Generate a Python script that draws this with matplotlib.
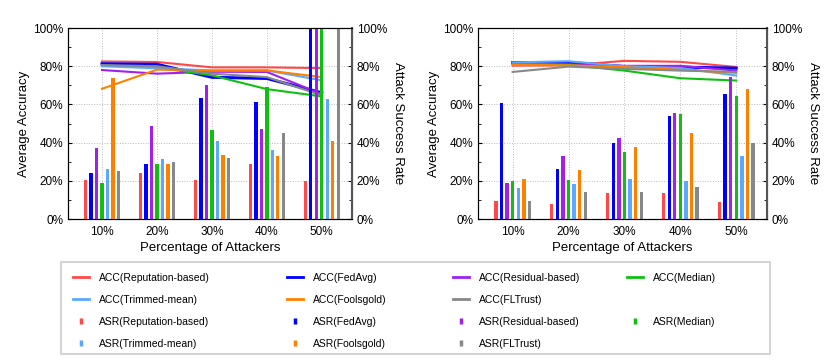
import matplotlib
matplotlib.use('Agg')
import matplotlib.pyplot as plt
from matplotlib.lines import Line2D
from matplotlib.patches import Rectangle
from matplotlib.ticker import PercentFormatter, MultipleLocator
import numpy as np

plt.rcParams['font.family'] = ['Liberation Sans', 'DejaVu Sans']

attackers = ['10%', '20%', '30%', '40%', '50%']
methods = ['Reputation-based', 'FedAvg', 'Residual-based', 'Median',
           'Trimmed-mean', 'Foolsgold', 'FLTrust']
colors = ['#ff4848', '#0000ff', '#a020f0', '#10c010', '#5aa8ff', '#ff8000', '#888888']

# left panel
acc_left = [
    [82.5, 82.2, 79.4, 79.4, 79.0],
    [81.3, 81.0, 74.2, 73.6, 66.1],
    [78.0, 76.1, 77.1, 77.0, 65.4],
    [80.4, 79.4, 75.2, 68.0, 64.2],
    [80.0, 78.9, 77.8, 77.8, 72.6],
    [68.2, 78.2, 77.7, 77.8, 74.3],
    [80.6, 80.0, 76.1, 74.3, 64.7],
]
asr_left = [
    [20.4, 24.3, 20.6, 28.8, 20.1],
    [23.9, 28.8, 63.4, 61.4, 100.0],
    [37.2, 48.5, 70.3, 46.9, 100.0],
    [19.0, 28.6, 46.8, 69.1, 100.0],
    [26.4, 31.4, 41.0, 36.3, 62.8],
    [73.6, 28.8, 33.7, 33.2, 40.7],
    [25.0, 29.7, 32.1, 45.0, 100.0],
]

# right panel
acc_right = [
    [80.3, 80.5, 82.8, 82.3, 79.6],
    [81.9, 82.0, 79.8, 79.5, 79.0],
    [81.2, 81.0, 80.2, 80.2, 77.7],
    [81.6, 80.7, 77.7, 73.7, 72.5],
    [82.0, 82.6, 80.0, 79.1, 75.1],
    [80.7, 80.5, 79.5, 78.1, 76.5],
    [77.0, 79.8, 78.6, 77.7, 77.0],
]
asr_right = [
    [9.6, 7.7, 13.4, 13.4, 8.7],
    [60.5, 26.1, 40.0, 53.9, 65.2],
    [18.8, 32.9, 42.3, 55.3, 74.4],
    [20.0, 20.2, 35.0, 54.8, 64.5],
    [16.0, 18.1, 20.7, 20.0, 33.0],
    [20.7, 25.4, 37.6, 44.9, 68.2],
    [9.6, 13.9, 13.9, 16.5, 40.0],
]

W, H = 831, 362
fig = plt.figure(figsize=(W / 100, H / 100), dpi=100)
ax_l = fig.add_axes([0.0818, 0.395, 0.3418, 0.5276])
ax_r = fig.add_axes([0.5752, 0.395, 0.3478, 0.5276])

x = np.arange(len(attackers))


def panel(ax, acc, asr):
    ax2 = ax.twinx()
    for i in range(len(methods)):
        lw = 2.2 if i == 1 else 1.5
        ax.plot(x, acc[i], color=colors[i], lw=lw, zorder=3)
        ax2.bar(x + (i - 3) * 0.1, asr[i], width=0.06, color=colors[i])
    for a in (ax, ax2):
        a.set_ylim(0, 100)
        a.yaxis.set_major_locator(MultipleLocator(20))
        a.yaxis.set_minor_locator(MultipleLocator(10))
        a.yaxis.set_major_formatter(PercentFormatter(decimals=0))
        a.tick_params(axis='both', which='both', direction='in', labelsize=8.5)
        a.tick_params(which='major', length=3)
        a.tick_params(which='minor', length=2)
    ax.set_xlim(-0.62, 4.55)
    ax.set_xticks(x)
    ax.set_xticklabels(attackers)
    ax.tick_params(axis='x', length=0, pad=5)
    ax.grid(True, linestyle=':', color='#bbbbbb', lw=0.7)
    ax.set_axisbelow(True)
    ax.set_xlabel('Percentage of Attackers', fontsize=9.5, labelpad=3)
    ax.set_ylabel('Average Accuracy', fontsize=9.5, labelpad=2)
    ax2.set_ylabel('Attack Success Rate', fontsize=9.5, rotation=-90, labelpad=12)
    ax2.spines['right'].set_color('#555555')
    ax2.spines['right'].set_linewidth(1.5)
    return ax2


panel(ax_l, acc_left, asr_left)
panel(ax_r, acc_right, asr_right)

# legend: frame plus four columns
fig.add_artist(Rectangle((61 / W, 1 - 354 / H), (770 - 61) / W, (354 - 262) / H,
                         transform=fig.transFigure, fill=False,
                         edgecolor='#cccccc', lw=1.2))

blank = Line2D([], [], linestyle='none')


def acc_handle(c):
    return Line2D([], [], color=c, lw=2)


def asr_handle(c):
    return Line2D([], [], color=c, marker='|', linestyle='none',
                  markersize=5, markeredgewidth=2.5)


columns = [[0, 4], [1, 5], [2, 6], [3, None]]
col_x = [73, 287, 453, 627]
for cols, cx in zip(columns, col_x):
    hs, ls = [], []
    for kind in ('ACC', 'ASR'):
        for i in cols:
            if i is None:
                hs.append(blank)
                ls.append(' ')
            else:
                hs.append(acc_handle(colors[i]) if kind == 'ACC' else asr_handle(colors[i]))
                ls.append('%s(%s)' % (kind, methods[i]))
    fig.legend(hs, ls, loc='upper left', bbox_to_anchor=(cx / W, 1 - 273 / H),
               frameon=False, borderpad=0, borderaxespad=0, fontsize=7.5,
               handlelength=1.5, handletextpad=0.95, labelspacing=1.15)

fig.savefig('out.png', dpi=100)
